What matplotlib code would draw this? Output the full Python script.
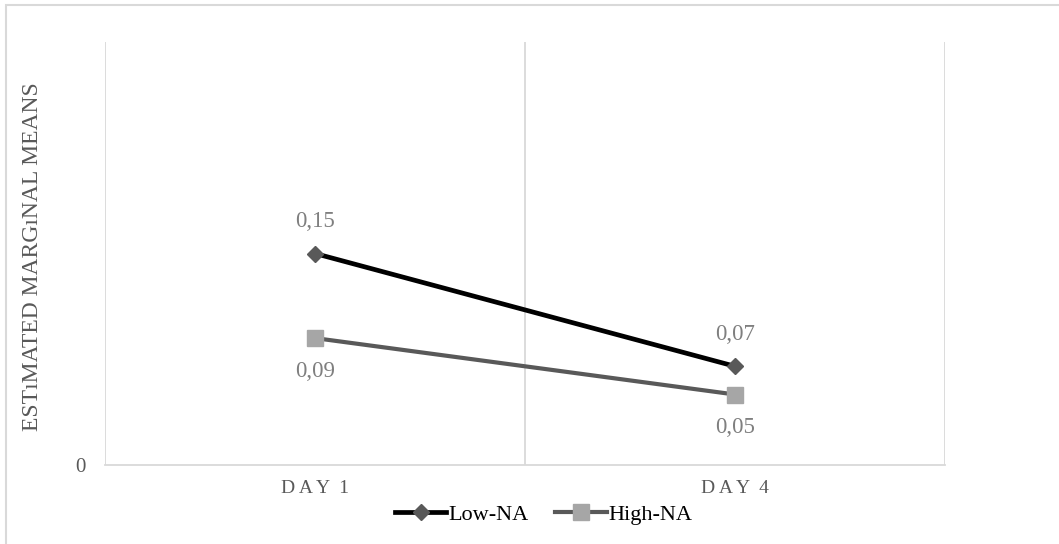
import matplotlib
matplotlib.use("Agg")
import matplotlib.pyplot as plt
from matplotlib.patches import Rectangle

categories = ["D A Y  1", "D A Y  4"]
low_na = [0.15, 0.07]
high_na = [0.09, 0.05]
low_labels = ["0,15", "0,07"]
high_labels = ["0,09", "0,05"]

plt.rcParams['font.family'] = ['Liberation Serif', 'DejaVu Serif']

fig = plt.figure(figsize=(10.59, 5.44), dpi=100)
ax = fig.add_axes([105/1059, 1-465/544, 840/1059, (465-42)/544])

# figure border
fig.patches.append(Rectangle((6/1059, -0.05), 1.2, 1-5/544+0.05, transform=fig.transFigure,
                             fill=False, edgecolor='#d9d9d9', linewidth=1.5, clip_on=False))

x = list(range(len(categories)))
ax.plot(x, low_na, color='black', linewidth=3.4, marker='D', markersize=8,
        markerfacecolor='#595959', markeredgecolor='#595959', label='Low-NA', zorder=3)
ax.plot(x, high_na, color='#595959', linewidth=3.0, marker='s', markersize=11,
        markerfacecolor='#a6a6a6', markeredgecolor='#a6a6a6', label='High-NA', zorder=3)

for xi, v, t in zip(x, low_na, low_labels):
    ax.annotate(t, (xi, v), xytext=(0, 23), textcoords='offset points', ha='center', va='center',
                fontsize=16.5, color='#7f7f7f')
for xi, v, t in zip(x, high_na, high_labels):
    ax.annotate(t, (xi, v), xytext=(0, -24), textcoords='offset points', ha='center', va='center',
                fontsize=16.5, color='#7f7f7f')

ax.set_xlim(-0.5, len(categories) - 0.5)
ax.set_ylim(0, 0.3)
ax.set_xticks(x)
ax.set_xticklabels(categories, fontsize=14, color='#595959')
ax.set_yticks([0])
ax.set_yticklabels(['0'], fontsize=15, color='#595959')
ax.tick_params(axis='both', length=0)
ax.tick_params(axis='y', pad=14)
ax.tick_params(axis='x', pad=11)

for xv in [-0.5, 0.5, 1.5]:
    ax.axvline(xv, color='#d9d9d9', linewidth=1.3, zorder=1)

for s in ['top', 'right', 'left']:
    ax.spines[s].set_visible(False)
ax.spines['bottom'].set_color('#d9d9d9')
ax.spines['bottom'].set_linewidth(1.3)

fig.text(33/1059, 1-257/544, 'ESTıMATED MARGıNAL MEANS', rotation=90, ha='center', va='center',
         fontsize=17, color='#595959')

leg = fig.legend(loc='center', bbox_to_anchor=(544/1059, 1-515/544), ncol=2, frameon=False,
                 fontsize=16, handlelength=2.3, handletextpad=0.1, columnspacing=1.2)
for t in leg.get_texts():
    t.set_color('black')

fig.savefig('out.png', dpi=100)
